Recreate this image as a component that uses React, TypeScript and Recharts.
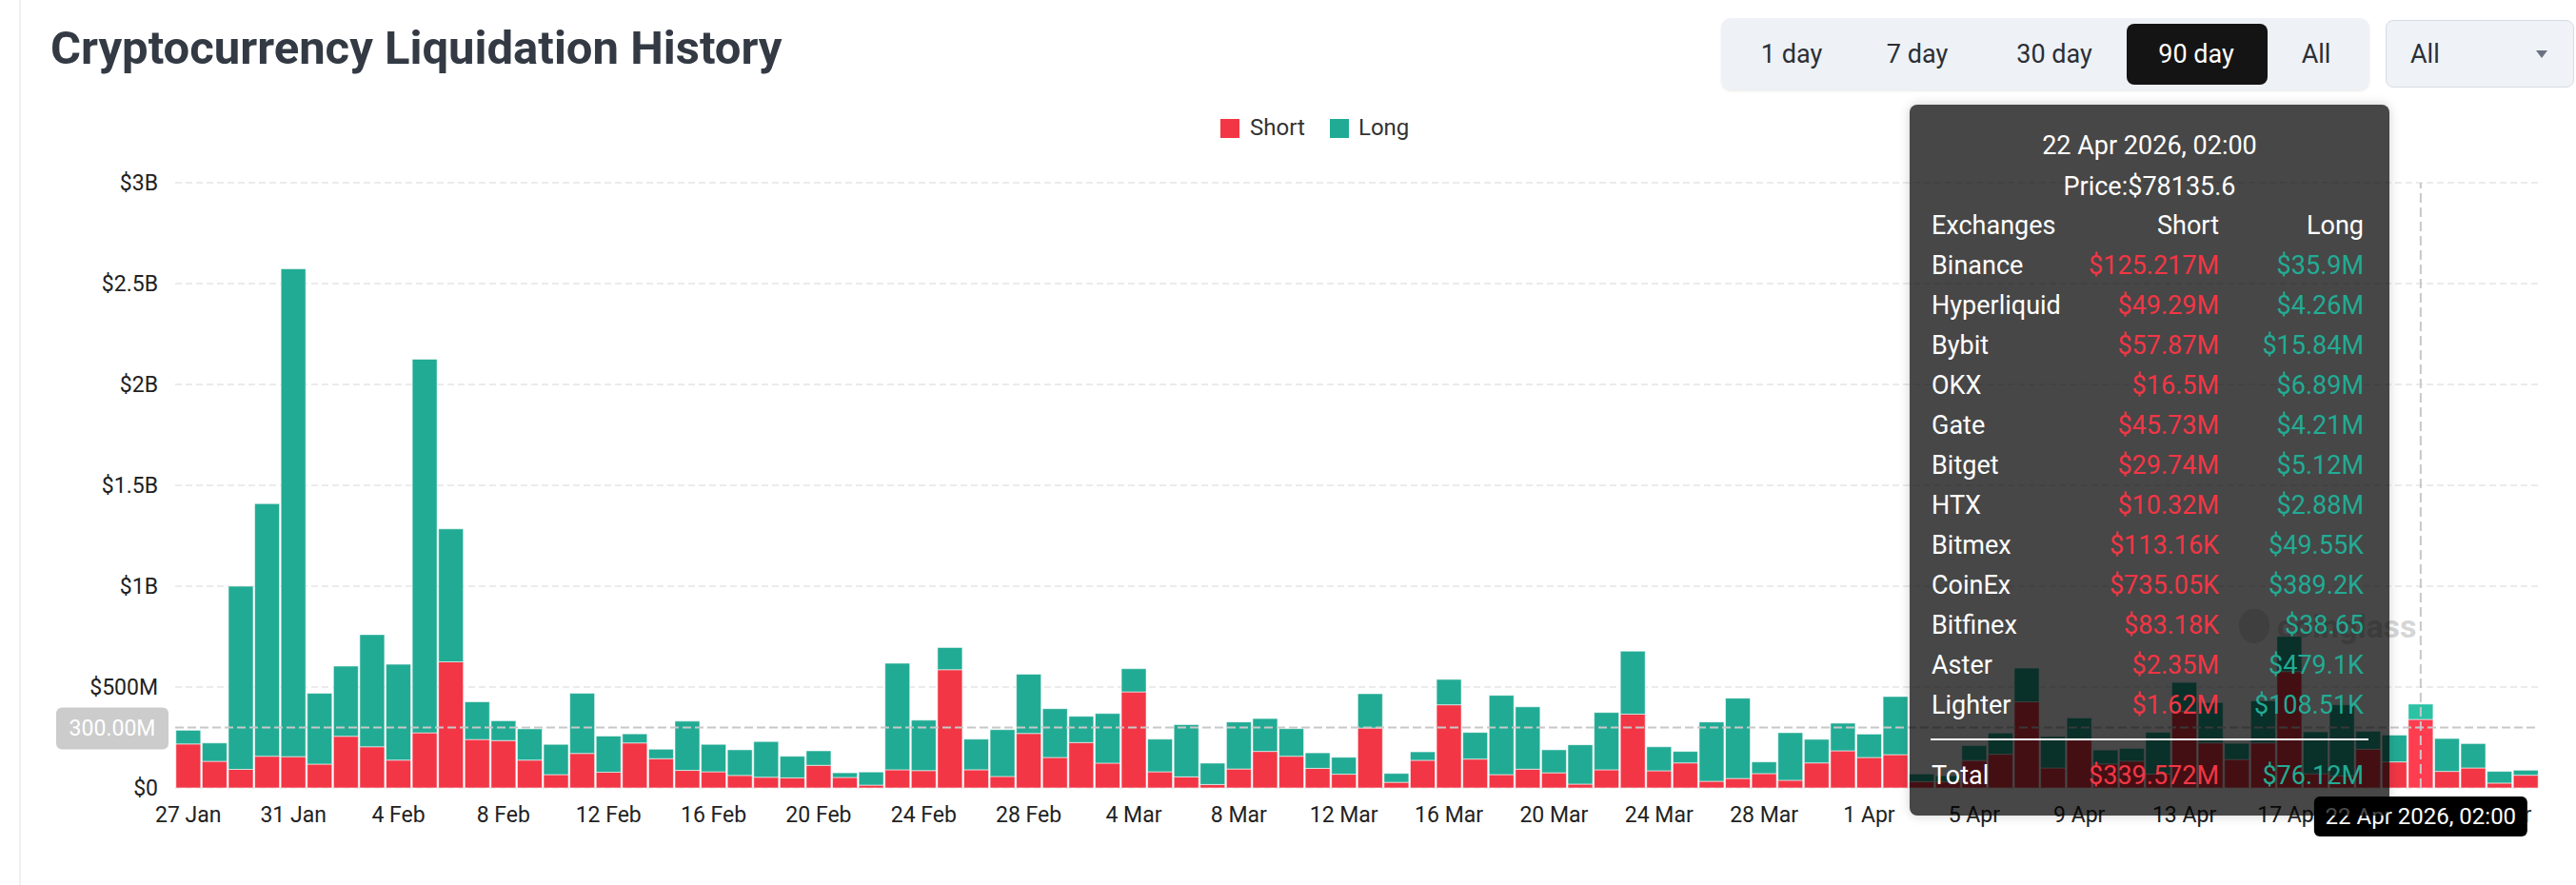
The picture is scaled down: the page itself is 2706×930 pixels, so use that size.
import React from 'react';
import { BarChart, Bar, XAxis, YAxis, CartesianGrid, Tooltip, ReferenceLine, Cell } from 'recharts';

const days = [
  '27 Jan', '28 Jan', '29 Jan', '30 Jan', '31 Jan',
  '1 Feb', '2 Feb', '3 Feb', '4 Feb', '5 Feb', '6 Feb', '7 Feb', '8 Feb', '9 Feb', '10 Feb',
  '11 Feb', '12 Feb', '13 Feb', '14 Feb', '15 Feb', '16 Feb', '17 Feb', '18 Feb', '19 Feb', '20 Feb',
  '21 Feb', '22 Feb', '23 Feb', '24 Feb', '25 Feb', '26 Feb', '27 Feb', '28 Feb',
  '1 Mar', '2 Mar', '3 Mar', '4 Mar', '5 Mar', '6 Mar', '7 Mar', '8 Mar', '9 Mar', '10 Mar',
  '11 Mar', '12 Mar', '13 Mar', '14 Mar', '15 Mar', '16 Mar', '17 Mar', '18 Mar', '19 Mar', '20 Mar',
  '21 Mar', '22 Mar', '23 Mar', '24 Mar', '25 Mar', '26 Mar', '27 Mar', '28 Mar', '29 Mar', '30 Mar', '31 Mar',
  '1 Apr', '2 Apr', '3 Apr', '4 Apr', '5 Apr', '6 Apr', '7 Apr', '8 Apr', '9 Apr', '10 Apr',
  '11 Apr', '12 Apr', '13 Apr', '14 Apr', '15 Apr', '16 Apr', '17 Apr', '18 Apr', '19 Apr', '20 Apr',
  '21 Apr', '22 Apr', '23 Apr', '24 Apr', '25 Apr', '26 Apr',
];

// millions of USD
const shortM = [
  218, 132, 92, 157, 155, 118, 256, 204, 138, 273,
  625, 240, 235, 138, 66, 171, 78, 223, 145, 87,
  80, 62, 53, 50, 112, 52, 14, 90, 86, 586,
  90, 57, 270, 151, 225, 123, 476, 80, 55, 17,
  94, 181, 157, 97, 68, 297, 28, 137, 412, 143,
  66, 93, 75, 19, 90, 366, 85, 124, 33, 47,
  71, 38, 124, 184, 151, 165, 31, 30, 136, 167,
  427, 99, 237, 119, 133, 69, 379, 223, 141, 223,
  577, 70, 60, 192, 129, 339.572, 82, 99, 24, 63,
];

const longM = [
  68, 91, 908, 1252, 2418, 351, 348, 556, 475, 1852,
  659, 187, 98, 155, 150, 298, 179, 45, 47, 244,
  136, 127, 177, 107, 72, 23, 65, 528, 250, 110,
  152, 232, 294, 242, 130, 246, 115, 162, 259, 106,
  233, 163, 137, 77, 84, 170, 44, 42, 126, 132,
  393, 309, 114, 195, 284, 312, 119, 57, 294, 398,
  58, 236, 117, 137, 116, 288, 38, 30, 74, 105,
  167, 156, 110, 69, 63, 207, 144, 200, 80, 209,
  174, 208, 352, 89, 133, 76.12, 163, 121, 58, 25,
];

const yTicks = [0, 500, 1000, 1500, 2000, 2500, 3000];
const yTickLabels = ['$0', '$500M', '$1B', '$1.5B', '$2B', '$2.5B', '$3B'];

const ranges = ['1 day', '7 day', '30 day', '90 day', 'All'];
const activeRange = '90 day';

const activeDay = '22 Apr';
const activeStamp = '22 Apr 2026, 02:00';
const activePrice = '$78135.6';
const pointerValue = 300;

const exchanges = ['Binance', 'Hyperliquid', 'Bybit', 'OKX', 'Gate', 'Bitget', 'HTX', 'Bitmex', 'CoinEx', 'Bitfinex', 'Aster', 'Lighter'];
const exchangeShort = ['$125.217M', '$49.29M', '$57.87M', '$16.5M', '$45.73M', '$29.74M', '$10.32M', '$113.16K', '$735.05K', '$83.18K', '$2.35M', '$1.62M'];
const exchangeLong = ['$35.9M', '$4.26M', '$15.84M', '$6.89M', '$4.21M', '$5.12M', '$2.88M', '$49.55K', '$389.2K', '$38.65', '$479.1K', '$108.51K'];
const totalShort = '$339.572M';
const totalLong = '$76.12M';

const data = days.map((day, i) => ({ day, short: shortM[i], long: longM[i] }));

const W = 2706;
const H = 930;
const margin = { top: 192, right: 39, bottom: 42, left: 0 };
const yAxisW = 184;
const xAxisH = 60;
const plotLeft = margin.left + yAxisW;
const plotBottom = H - margin.bottom - xAxisH;
const pointerHalfW = 112;

const RED = '#f23645';
const TEAL = '#22ab94';
const RED_HI = '#ff3d50';
const TEAL_HI = '#2bc2a6';
const FONT = 'Roboto, "Noto Sans", sans-serif';

// place text by baseline (Roboto, line-height 1)
const top = (baseline: number, size: number) => baseline - 0.8415 * size;

// x tick text, clipped where the pointer label box sits over the axis
function DayTick({ x, y, payload }: any) {
  return (
    <text x={x} y={y} dy="0.71em" textAnchor="middle" fontSize={23} fill="#222" clipPath="url(#outside-pointer)">
      {payload.value}
    </text>
  );
}

function XPointerLabel({ viewBox }: any) {
  const cx = viewBox.x;
  return (
    <g>
      <defs>
        <clipPath id="outside-pointer">
          <rect x={0} y={0} width={cx - pointerHalfW} height={H} />
          <rect x={cx + pointerHalfW} y={0} width={W} height={H} />
        </clipPath>
      </defs>
      <rect x={cx - pointerHalfW} y={plotBottom + 9} width={pointerHalfW * 2} height={42} rx={6} fill="#000" />
      <text x={cx} y={plotBottom + 38} textAnchor="middle" fill="#fff" fontSize={24}>{activeStamp}</text>
    </g>
  );
}

function YPointerLabel({ viewBox }: any) {
  const cy = viewBox.y;
  return (
    <g>
      <rect x={plotLeft - 125} y={cy - 21} width={118} height={44} rx={6} fill="#cccccc" />
      <text x={plotLeft - 66} y={cy + 9} textAnchor="middle" fill="#fff" fontSize={23}>300.00M</text>
    </g>
  );
}

function TooltipBox({ label }: any) {
  const fs = 27;
  const cell = (t: string, b: number, side: 'l' | 's' | 'g', color: string) => {
    const style: React.CSSProperties = { position: 'absolute', top: top(b, fs), color, whiteSpace: 'nowrap' };
    if (side === 'l') style.left = 23;
    if (side === 's') style.right = 179;
    if (side === 'g') style.right = 27;
    return <div style={style}>{t}</div>;
  };
  return (
    <div style={{ position: 'relative', width: 504, height: 747, background: 'rgba(0,0,0,0.72)', borderRadius: 8, boxShadow: '0 0 12px rgba(0,0,0,0.18)', fontFamily: FONT, fontSize: fs, lineHeight: 1 }}>
      <div style={{ position: 'absolute', left: 0, width: 504, textAlign: 'center', top: top(53, fs), color: '#fff' }}>{activeStamp || label}</div>
      <div style={{ position: 'absolute', left: 0, width: 504, textAlign: 'center', top: top(96, fs), color: '#fff' }}>Price:{activePrice}</div>
      {cell('Exchanges', 137, 'l', '#fff')}
      {cell('Short', 137, 's', '#fff')}
      {cell('Long', 137, 'g', '#fff')}
      {exchanges.map((ex, k) => (
        <React.Fragment key={ex}>
          {cell(ex, 179 + 42 * k, 'l', '#fff')}
          {cell(exchangeShort[k], 179 + 42 * k, 's', RED)}
          {cell(exchangeLong[k], 179 + 42 * k, 'g', TEAL)}
        </React.Fragment>
      ))}
      <div style={{ position: 'absolute', left: 22, top: 666, width: 460, height: 2, background: '#fff' }} />
      {cell('Total', 715, 'l', '#fff')}
      {cell(totalShort, 715, 's', RED)}
      {cell(totalLong, 715, 'g', TEAL)}
    </div>
  );
}

export default function App() {
  const btnCenters = [1882, 2014, 2158, 2307, 2433];
  return (
    <div style={{ position: 'absolute', left: 0, top: 0, width: W, height: H, background: '#fff', fontFamily: FONT, overflow: 'hidden' }}>
      <div style={{ position: 'absolute', left: 20, top: 0, width: 2, height: H, background: '#efefef' }} />

      <div style={{ position: 'absolute', left: 53, top: top(67, 49), fontSize: 49, lineHeight: 1, fontWeight: 700, color: '#333a44', whiteSpace: 'nowrap' }}>
        Cryptocurrency Liquidation History
      </div>

      <div style={{ position: 'absolute', left: 1808, top: 19, width: 681, height: 75, borderRadius: 10, background: '#eef1f5', boxShadow: '0 2px 3px rgba(0,0,0,0.08)' }} />
      <div style={{ position: 'absolute', left: 2234, top: 25, width: 148, height: 64, borderRadius: 8, background: '#141414' }} />
      {ranges.map((r, i) => (
        <div key={r} style={{ position: 'absolute', left: btnCenters[i] - 60, width: 120, textAlign: 'center', top: top(67, 27), fontSize: 27, lineHeight: 1, color: r === activeRange ? '#fff' : '#2b2f36' }}>{r}</div>
      ))}
      <div style={{ position: 'absolute', left: 2506, top: 21, width: 198, height: 71, boxSizing: 'border-box', border: '1.5px solid #d5dde6', borderRadius: 8, background: '#eff2f6' }} />
      <div style={{ position: 'absolute', left: 2532, top: top(67, 27), fontSize: 27, lineHeight: 1, color: '#2b2f36' }}>All</div>
      <div style={{ position: 'absolute', left: 2664, top: 53, width: 0, height: 0, borderLeft: '6px solid transparent', borderRight: '6px solid transparent', borderTop: '8px solid #6b7280' }} />

      <div style={{ position: 'absolute', left: 1282, top: 125, width: 20, height: 20, background: RED }} />
      <div style={{ position: 'absolute', left: 1313, top: top(142, 24), fontSize: 24, lineHeight: 1, color: '#333' }}>Short</div>
      <div style={{ position: 'absolute', left: 1397, top: 125, width: 20, height: 20, background: TEAL }} />
      <div style={{ position: 'absolute', left: 1427, top: top(142, 24), fontSize: 24, lineHeight: 1, color: '#333' }}>Long</div>

      <div style={{ position: 'absolute', left: 2352, top: 640, width: 32, height: 36, borderRadius: '45% 45% 50% 50%', background: '#e2e2e2' }} />
      <div style={{ position: 'absolute', left: 2392, top: top(670, 34), fontSize: 34, lineHeight: 1, fontWeight: 700, color: '#d6d6d6' }}>coinglass</div>

      <div style={{ position: 'absolute', left: 0, top: 0 }}>
        <BarChart width={W} height={H} data={data} margin={margin} barCategoryGap={0.8}>
          <CartesianGrid vertical={false} stroke="#ebebeb" strokeWidth={2} strokeDasharray="7 4" />
          <XAxis dataKey="day" interval={3} tickLine={false} axisLine={false} tickSize={0} tickMargin={20} height={xAxisH} tick={<DayTick />} />
          <YAxis width={yAxisW} domain={[0, 3000]} ticks={yTicks} tickFormatter={(v: number) => yTickLabels[yTicks.indexOf(v)]} tickLine={false} axisLine={false} tickSize={0} tickMargin={18} tick={{ fontSize: 23, fill: '#222' }} />
          <Bar dataKey="short" stackId="a" fill={RED} stroke="rgba(255,255,255,0.55)" strokeWidth={1} isAnimationActive={false}>
            {data.map((d) => <Cell key={d.day} fill={d.day === activeDay ? RED_HI : RED} />)}
          </Bar>
          <Bar dataKey="long" stackId="a" fill={TEAL} stroke="rgba(255,255,255,0.55)" strokeWidth={1} isAnimationActive={false}>
            {data.map((d) => <Cell key={d.day} fill={d.day === activeDay ? TEAL_HI : TEAL} />)}
          </Bar>
          <ReferenceLine y={pointerValue} stroke="#c8c8c8" strokeWidth={2} strokeDasharray="9 4" label={(p: any) => <YPointerLabel {...p} />} />
          <ReferenceLine x={activeDay} zIndex={1500} stroke="#c8c8c8" strokeWidth={2} strokeDasharray="10 5" label={(p: any) => <XPointerLabel {...p} />} />
          <Tooltip
            defaultIndex={days.indexOf(activeDay)}
            active
            cursor={false}
            isAnimationActive={false}
            position={{ x: 2006, y: 110 }}
            content={(p: any) => <TooltipBox {...p} />}
            wrapperStyle={{ outline: 'none' }}
          />
        </BarChart>
      </div>
    </div>
  );
}
